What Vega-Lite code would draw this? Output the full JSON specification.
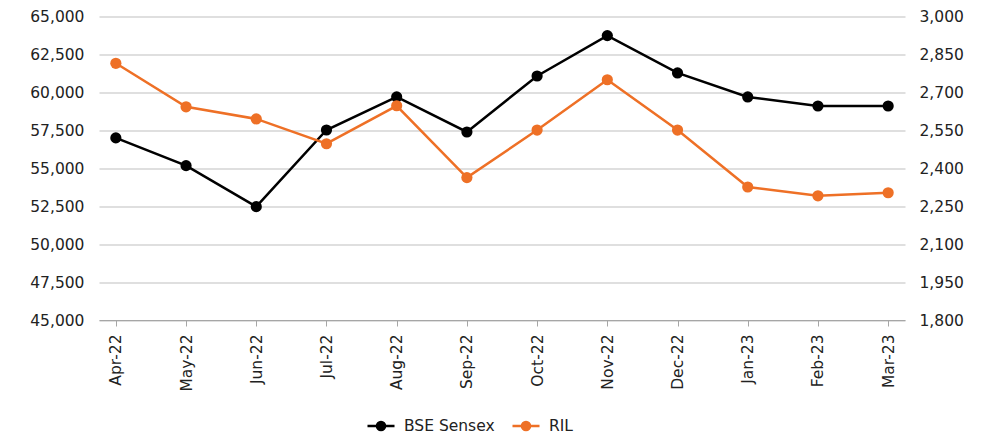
{
  "$schema": "https://vega.github.io/schema/vega-lite/v6.json",
  "width": 806,
  "height": 303.5,
  "autosize": {"type": "none"},
  "padding": {"left": 99, "top": 16.5, "right": 80, "bottom": 116},
  "background": "white",
  "config": {
    "font": "DejaVu Sans",
    "view": {"stroke": null},
    "axis": {"labelFont": "DejaVu Sans", "labelFontSize": 15.5, "labelColor": "#222222"}
  },
  "data": {
    "values": [
      {"month": "Apr-22", "sensex": 57000, "ril": 2815},
      {"month": "May-22", "sensex": 55170, "ril": 2643},
      {"month": "Jun-22", "sensex": 52470, "ril": 2595},
      {"month": "Jul-22", "sensex": 57520, "ril": 2497},
      {"month": "Aug-22", "sensex": 59700, "ril": 2647},
      {"month": "Sep-22", "sensex": 57390, "ril": 2363},
      {"month": "Oct-22", "sensex": 61080, "ril": 2551},
      {"month": "Nov-22", "sensex": 63740, "ril": 2750},
      {"month": "Dec-22", "sensex": 61280, "ril": 2551},
      {"month": "Jan-23", "sensex": 59700, "ril": 2326},
      {"month": "Feb-23", "sensex": 59100, "ril": 2291},
      {"month": "Mar-23", "sensex": 59100, "ril": 2303}
    ]
  },
  "encoding": {
    "x": {
      "field": "month",
      "type": "ordinal",
      "sort": null,
      "scale": {"type": "point", "padding": 0.24},
      "axis": {
        "title": null,
        "labelAngle": -90,
        "labelPadding": 8,
        "tickSize": 6,
        "tickColor": "#a6a6a6",
        "domainColor": "#a6a6a6",
        "grid": false
      }
    }
  },
  "layer": [
    {
      "mark": {"type": "line", "strokeWidth": 2.5, "point": {"filled": true, "size": 125}},
      "encoding": {
        "y": {
          "field": "sensex",
          "type": "quantitative",
          "scale": {"domain": [45000, 65000], "nice": false, "zero": false},
          "axis": {
            "title": null,
            "orient": "left",
            "values": [45000, 47500, 50000, 52500, 55000, 57500, 60000, 62500, 65000],
            "format": ",d",
            "ticks": false,
            "domain": false,
            "labelPadding": 15,
            "grid": true,
            "gridColor": "#bfbfbf",
            "gridWidth": 1
          }
        },
        "color": {
          "datum": "BSE Sensex",
          "type": "nominal",
          "scale": {"domain": ["BSE Sensex", "RIL"], "range": ["#000000", "#EE7026"]},
          "legend": {
            "title": null,
            "orient": "none",
            "direction": "horizontal",
            "legendX": 267,
            "legendY": 394,
            "symbolType": "M-1,0H1M-0.3,0A0.3,0.3 0 1,0 0.3,0A0.3,0.3 0 1,0 -0.3,0",
            "symbolSize": 730,
            "symbolStrokeWidth": 2.5,
            "labelFont": "DejaVu Sans",
            "labelFontSize": 15.5,
            "labelColor": "#222222",
            "labelOffset": 8,
            "columnPadding": 12,
            "encode": {"symbols": {"update": {"fill": {"scale": "color", "field": "value"}}}}
          }
        }
      }
    },
    {
      "mark": {"type": "line", "strokeWidth": 2.5, "point": {"filled": true, "size": 125}},
      "encoding": {
        "y": {
          "field": "ril",
          "type": "quantitative",
          "scale": {"domain": [1800, 3000], "nice": false, "zero": false},
          "axis": {
            "title": null,
            "orient": "right",
            "values": [1800, 1950, 2100, 2250, 2400, 2550, 2700, 2850, 3000],
            "format": ",d",
            "ticks": false,
            "domain": false,
            "labelPadding": 14,
            "grid": false
          }
        },
        "color": {"datum": "RIL", "type": "nominal"}
      }
    }
  ],
  "resolve": {"scale": {"y": "independent"}}
}
